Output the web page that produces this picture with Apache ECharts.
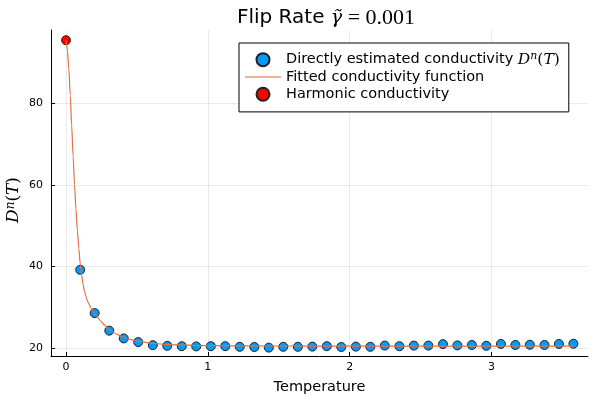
<!DOCTYPE html>
<html><head><meta charset="utf-8">
<script src="https://cdn.jsdelivr.net/npm/echarts@6/dist/echarts.min.js"></script>
<style>html,body{margin:0;padding:0;background:#fff}#c{width:600px;height:400px}</style>
</head><body><div id="c"></div>
<script>
// Directly estimated conductivity D^n(T)
const temperatures = [0.100, 0.202, 0.305, 0.407, 0.509, 0.612, 0.714, 0.816, 0.918, 1.021,
  1.123, 1.225, 1.328, 1.430, 1.532, 1.635, 1.737, 1.839, 1.941, 2.044,
  2.146, 2.248, 2.351, 2.453, 2.555, 2.658, 2.760, 2.862, 2.964, 3.067,
  3.169, 3.271, 3.374, 3.476, 3.578];
const conductivity = [39.2, 28.6, 24.3, 22.4, 21.5, 20.75, 20.6, 20.5, 20.45, 20.5,
  20.5, 20.35, 20.3, 20.15, 20.35, 20.35, 20.4, 20.5, 20.3, 20.4,
  20.35, 20.65, 20.5, 20.65, 20.65, 21.0, 20.7, 20.8, 20.6, 21.05,
  20.8, 20.85, 20.8, 21.05, 21.1];
// Fitted conductivity function
const fitT = [0, 0.01, 0.02, 0.03, 0.04, 0.05, 0.06, 0.07, 0.08, 0.09, 0.10, 0.11, 0.12, 0.13, 0.14,
  0.15, 0.16, 0.18, 0.20, 0.22, 0.24, 0.27, 0.30, 0.35, 0.40, 0.45, 0.50, 0.60, 0.70, 0.80,
  1.00, 1.50, 2.00, 2.50, 3.00, 3.578];
const fitD = [95.4, 93.0, 88.3, 81.8, 74.5, 67.0, 60.0, 54.0, 48.8, 44.4, 40.7, 37.9, 35.7, 34.0, 32.7,
  31.7, 30.9, 29.6, 28.6, 27.7, 26.85, 25.7, 24.7, 23.55, 22.75, 22.15, 21.75, 21.25, 20.95, 20.8,
  20.65, 20.55, 20.5, 20.5, 20.5, 20.5];
// Harmonic conductivity
const harmonicT = [0];
const harmonicD = [95.4];
const xTicks = [0, 1, 2, 3];
const yTicks = [20, 40, 60, 80];
const names = ['Directly estimated conductivity', 'Fitted conductivity function', 'Harmonic conductivity'];

const serif = 'DejaVu Serif';
const serif2 = 'Liberation Serif';
const sans = 'DejaVu Sans';
const mathRich = (size) => ({
  it: {fontFamily: serif, fontStyle: 'italic', fontWeight: 'normal', fontSize: size, color: '#000'},
  rm: {fontFamily: serif, fontWeight: 'normal', fontSize: size, color: '#000'},
  sup: {fontFamily: serif, fontStyle: 'italic', fontWeight: 'normal', fontSize: Math.round(size * 0.7), color: '#000', verticalAlign: 'top'},
  sans: {fontFamily: sans, fontWeight: 'normal', fontSize: size, color: '#000'}
});

const chart = echarts.init(document.getElementById('c'), null, {renderer: 'canvas'});
chart.setOption({
  animation: false,
  backgroundColor: '#fff',
  title: {
    text: '{sans|Flip Rate }{it|γ̃}{num| = 0.001}',
    left: 321, top: 2, textAlign: 'center',
    textStyle: {fontWeight: 'normal', rich: Object.assign(mathRich(19), {
      sans: {fontFamily: sans, fontWeight: 'normal', fontSize: 20, color: '#000'},
      num: {fontFamily: serif2, fontWeight: 'normal', fontSize: 22, color: '#000'}
    })}
  },
  grid: {left: 51, right: 12, top: 30, bottom: 44, outerBoundsMode: 'none', containLabel: false},
  legend: {
    orient: 'vertical', left: 239, top: 43,
    padding: [8, 9, 9, 6], itemGap: 0, itemWidth: 36, itemHeight: 13,
    borderColor: '#000', borderWidth: 1, backgroundColor: '#fff',
    data: [
      {name: names[0]},
      {name: names[1], icon: 'path://M0,0 L36,0 L36,1.6 L0,1.6 Z'},
      {name: names[2]}
    ],
    formatter: function (name) {
      if (name === names[0]) return '{sans|' + name + ' }{it|D}{sup|n}{rm|(}{it|T}{rm|)}';
      return '{sans|' + name + '}';
    },
    textStyle: {fontSize: 14.5, lineHeight: 17.3, color: '#000', fontFamily: sans,
      rich: Object.assign(mathRich(15.5), {sans: {fontFamily: sans, fontSize: 14.5, color: '#000'}})}
  },
  xAxis: {
    type: 'value', min: -0.106, max: 3.681,
    name: 'Temperature', nameLocation: 'middle', nameGap: 24, nameMoveOverlap: false,
    nameTextStyle: {fontSize: 14.5, color: '#000', fontFamily: sans},
    axisLine: {show: true, onZero: false, lineStyle: {color: '#000', width: 1}},
    axisTick: {show: true, inside: true, length: 4, customValues: xTicks, lineStyle: {color: '#000'}},
    axisLabel: {customValues: xTicks, fontSize: 11, color: '#000', fontFamily: sans, margin: 6},
    splitLine: {show: true, lineStyle: {color: 'rgba(0,0,0,0.08)', width: 1}}
  },
  yAxis: {
    type: 'value', min: 18.1, max: 97.9,
    name: '{it|D}{sup|n}{rm|(}{it|T}{rm|)}', nameLocation: 'middle', nameGap: 29, nameMoveOverlap: false,
    nameTextStyle: {padding: [0, 14, 0, 0], rich: mathRich(17)},
    axisLine: {show: true, onZero: false, lineStyle: {color: '#000', width: 1}},
    axisTick: {show: true, inside: true, length: 4, customValues: yTicks, lineStyle: {color: '#000'}},
    axisLabel: {customValues: yTicks, fontSize: 11, color: '#000', fontFamily: sans, margin: 8},
    splitLine: {show: true, lineStyle: {color: 'rgba(0,0,0,0.08)', width: 1}}
  },
  series: [
    {
      name: names[0], type: 'scatter', symbol: 'circle', symbolSize: 9,
      itemStyle: {color: '#009AF9', borderColor: '#222', borderWidth: 1, opacity: 1},
      data: temperatures.map((t, i) => [t, conductivity[i]])
    },
    {
      name: names[1], type: 'line', showSymbol: false, symbol: 'none',
      smooth: 0.2, smoothMonotone: 'x',
      lineStyle: {color: '#E26F46', width: 1.2},
      itemStyle: {color: '#E9967A'},
      data: fitT.map((t, i) => [t, fitD[i]])
    },
    {
      name: names[2], type: 'scatter', symbol: 'circle', symbolSize: 9,
      itemStyle: {color: '#FF0000', borderColor: '#222', borderWidth: 1, opacity: 1},
      data: harmonicT.map((t, i) => [t, harmonicD[i]])
    }
  ]
});
</script>
</body></html>
